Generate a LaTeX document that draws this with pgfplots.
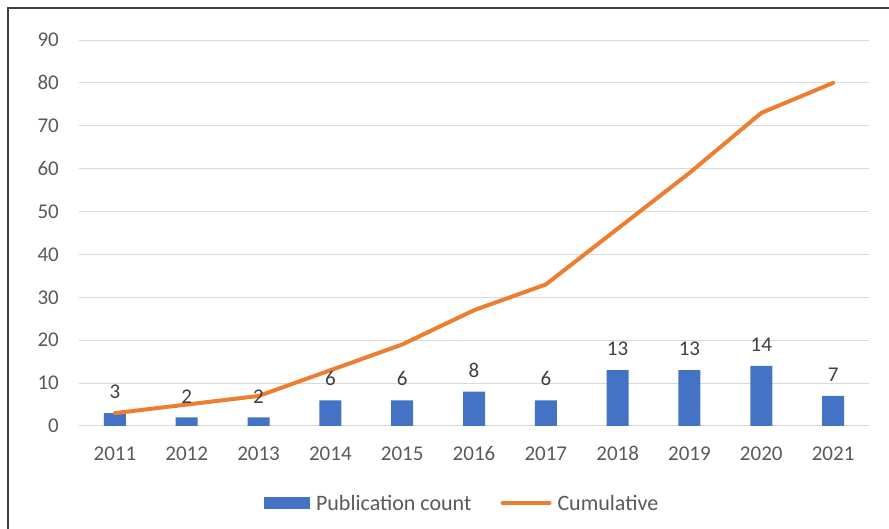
\documentclass[border=0pt]{standalone}
\usepackage{pgfplots}
\pgfplotsset{compat=1.18}
\usepackage{fontspec}
\setmainfont{Carlito}
\definecolor{barblue}{HTML}{4472C4}
\definecolor{lineorange}{HTML}{ED7D31}
\definecolor{gridgray}{HTML}{D9D9D9}
\definecolor{ticktext}{HTML}{595959}
\definecolor{labeltext}{HTML}{404040}
\pgfplotstableread{
x count cum
0 3 3
1 2 5
2 2 7
3 6 13
4 6 19
5 8 27
6 6 33
7 13 46
8 13 59
9 14 73
10 7 80
}\datatable
\begin{document}
\begin{tikzpicture}[x=1pt,y=1pt]
\path[use as bounding box] (0,0) rectangle (889,529);
\draw[line width=1.5pt, draw=black!75] (8,0) -- (8,521) -- (889,521);
\begin{axis}[
  at={(79pt,103pt)}, anchor=south west,
  scale only axis, width=790pt, height=386pt,
  xmin=-0.5, xmax=10.5, ymin=0, ymax=90,
  ytick={0,10,...,90},
  xtick={0,...,10},
  xticklabels={2011,2012,2013,2014,2015,2016,2017,2018,2019,2020,2021},
  axis x line*=bottom, axis y line*=left,
  x axis line style={draw=gridgray, line width=1pt, -},
  y axis line style={draw=none},
  ymajorgrids, grid style={draw=gridgray, line width=1pt},
  major tick length=0pt,
  /pgf/number format/assume math mode=true,
  tick label style={font=\fontsize{21}{25}\selectfont, text=ticktext},
  yticklabel style={anchor=east, inner sep=0pt, xshift=-20pt},
  xticklabel style={anchor=base, inner sep=0pt, yshift=-35pt},
  legend style={at={(0.485,-0.20)}, anchor=center, draw=none, fill=none,
    font=\fontsize{22}{26}\selectfont, text=ticktext, legend columns=2,
    /tikz/every odd column/.append style={column sep=4pt},
    /tikz/every even column/.append style={column sep=27pt}},
  legend cell align=left,
  clip=false,
]
\addplot[ybar, bar width=22pt, fill=barblue, draw=none,
  nodes near coords,
  every node near coord/.append style={font=\fontsize{21}{25}\selectfont, text=labeltext, inner sep=0pt, anchor=south, yshift=14pt},
  legend image code/.code={\fill[barblue] (0pt,-6pt) rectangle (46pt,6pt);}
] table[x=x, y=count] {\datatable};
\addlegendentry{Publication count}
\addplot[lineorange, line width=4pt, line join=round, line cap=round, mark=none,
  legend image code/.code={\draw[lineorange, line width=4pt, line cap=round] (0pt,0pt) -- (47pt,0pt);}
] table[x=x, y=cum] {\datatable};
\addlegendentry{Cumulative}
\end{axis}
\end{tikzpicture}
\end{document}
